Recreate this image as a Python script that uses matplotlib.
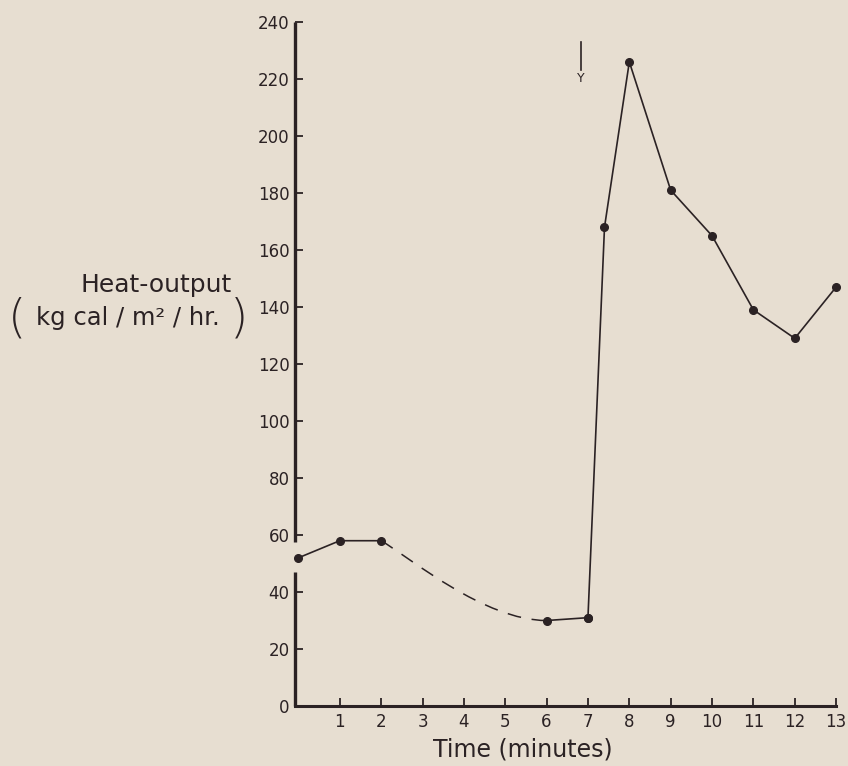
import matplotlib
matplotlib.use("Agg")
import matplotlib.pyplot as plt
from matplotlib.path import Path
from matplotlib.patches import PathPatch

# ---- data ----
time_early = [0, 1, 2]
heat_early = [52, 58, 58]
time_mid = [6, 7]
heat_mid = [30, 31]
time_late = [7, 7.4, 8, 9, 10, 11, 12, 13]
heat_late = [31, 168, 226, 181, 165, 139, 129, 147]
# dashed connector between minute 2 and minute 6 (bezier control points)
curve_x = [2, 2.7, 4.5, 6]
curve_y = [58, 52, 30, 30]
x_ticks = list(range(1, 14))
y_ticks = list(range(0, 241, 20))
arrow_time = 6.83
arrow_top, arrow_bottom = 233, 223

bg = "#e7ded1"
ink = "#2b2224"

fig = plt.figure(figsize=(8.48, 7.66), dpi=100, facecolor=bg)
ax = fig.add_axes([0.348, 0.0783, 0.638, 0.893], facecolor=bg)
xmin = -0.08
ax.set_xlim(xmin, 13)
ax.set_ylim(0, 240)

for s in ["top", "right", "left"]:
    ax.spines[s].set_visible(False)
ax.spines["bottom"].set_color(ink)
ax.spines["bottom"].set_linewidth(2.2)

# left axis with a break between 40 and 60
ax.plot([xmin, xmin], [0, 47], color=ink, lw=2.4, clip_on=False, solid_capstyle="butt")
ax.plot([xmin, xmin], [57.5, 240], color=ink, lw=2.4, clip_on=False, solid_capstyle="butt")

ax.set_xticks(x_ticks)
ax.set_xticklabels([str(t) for t in x_ticks])
ax.set_yticks(y_ticks)
ax.set_yticklabels([str(t) for t in y_ticks])
ax.tick_params(axis="both", direction="in", length=6, width=1.3, colors=ink,
               labelsize=12, pad=5)
ax.tick_params(axis="y", pad=4)

lk = dict(color=ink, lw=1.2, marker="o", markersize=5.5, clip_on=False)
ax.plot(time_early, heat_early, **lk)
ax.plot(time_mid, heat_mid, **lk)
ax.plot(time_late, heat_late, **lk)

verts = list(zip(curve_x, curve_y))
path = Path(verts, [Path.MOVETO, Path.CURVE4, Path.CURVE4, Path.CURVE4])
ax.add_patch(PathPatch(path, fill=False, edgecolor=ink, lw=1.1, linestyle=(0, (9, 7))))

# arrow marker "Y"
ax.plot([arrow_time, arrow_time], [arrow_top, arrow_bottom], color=ink, lw=1.2, clip_on=False)
ax.text(arrow_time, arrow_bottom - 0.5, "Y", ha="center", va="top", fontsize=9, color=ink)

# axis labels
fig.text(523 / 848, 1 - 750 / 766, "Time (minutes)", ha="center", va="center",
         fontsize=17, color=ink)
fig.text(156 / 848, 1 - 285 / 766, "Heat-output", ha="center", va="center",
         fontsize=18, color=ink)
fig.text(8 / 848, 1 - 318 / 766, "(", ha="left", va="center", fontsize=34,
         color=ink, fontweight="light")
fig.text(128 / 848, 1 - 318 / 766, "kg cal / m² / hr.", ha="center", va="center",
         fontsize=17.5, color=ink)
fig.text(230 / 848, 1 - 318 / 766, ")", ha="left", va="center", fontsize=34,
         color=ink, fontweight="light")

fig.savefig("out.png", dpi=100, facecolor=bg)
